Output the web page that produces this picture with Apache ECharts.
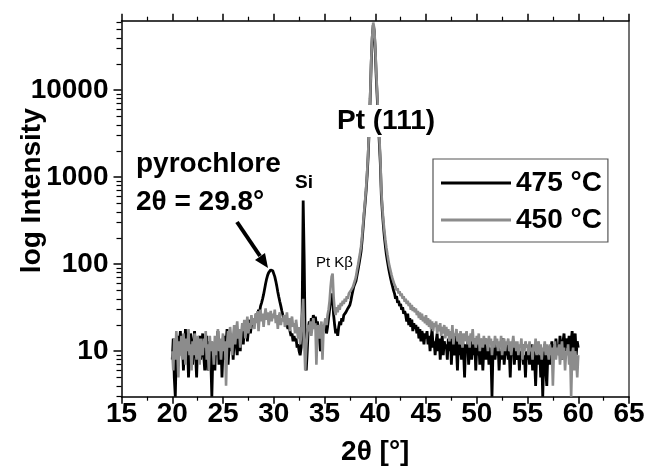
<!DOCTYPE html>
<html>
<head>
<meta charset="utf-8">
<script src="https://cdn.jsdelivr.net/npm/echarts@6/dist/echarts.min.js"></script>
<style>html,body{margin:0;padding:0;background:#fff}#c{width:646px;height:469px}</style>
</head>
<body>
<div id="c"></div>
<script>
// 2θ grid: 20.0 .. 60.0 in 0.1° steps
const thetaStart = 20.0;
const thetaStep = 0.1;

// 475 °C intensities (one row per degree, 20.x ... 59.x, then 60.0)
const s475 = [
  8, 14, 5, 3, 10, 15, 7, 12, 17, 9,
  13, 6, 10, 18, 8, 12, 5, 9, 16, 11,
  7, 13, 17, 9, 5, 12, 10, 15, 8, 11,
  16, 9, 6, 12, 15, 6, 10, 13, 8, 3,
  9, 12, 6, 14, 10, 17, 7, 11, 13, 5,
  10, 15, 8, 12, 18, 7, 11, 16, 10, 13,
  8, 14, 19, 12, 9, 16, 13, 10, 17, 14,
  12, 18, 15, 21, 13, 17, 23, 16, 20, 24,
  20, 24, 22, 27, 25, 30, 28, 33, 36, 40,
  45, 52, 60, 68, 75, 80, 84, 86, 88, 84,
  80, 72, 64, 56, 48, 42, 37, 33, 29, 26,
  25, 22, 24, 20, 18, 21, 17, 15, 16, 13,
  15, 13, 14, 11, 12, 10, 9, 11, 30, 540,
  110, 12, 6, 10, 18, 22, 19, 24, 21, 26,
  23, 25, 20, 22, 18, 14, 10, 12, 16, 20,
  18, 20, 16, 19, 24, 30, 38, 46, 40, 26,
  20, 16, 18, 15, 19, 22, 20, 24, 22, 26,
  25, 28, 27, 31, 30, 34, 38, 44, 50, 56,
  58, 64, 74, 86, 100, 118, 140, 185, 260, 370,
  500, 700, 1050, 1750, 3500, 8000, 20000, 40000, 56000, 48000,
  29000, 14000, 8000, 4400, 2500, 1450, 620, 400, 280, 205,
  160, 128, 108, 92, 80, 70, 62, 56, 50, 46,
  40, 43, 36, 38, 33, 35, 30, 32, 27, 29,
  26, 22, 27, 20, 24, 19, 23, 17, 21, 18,
  20, 16, 19, 14, 18, 13, 17, 15, 12, 16,
  14, 17, 12, 15, 10, 14, 18, 11, 13, 9,
  13, 16, 10, 14, 8, 12, 15, 9, 13, 11,
  12, 8, 14, 10, 17, 7, 13, 11, 9, 15,
  11, 6, 13, 9, 12, 8, 14, 10, 5, 12,
  10, 13, 7, 11, 15, 8, 12, 9, 14, 6,
  11, 9, 13, 7, 12, 10, 6, 11, 14, 8,
  10, 12, 7, 11, 9, 3, 10, 13, 8, 11,
  9, 12, 6, 10, 8, 11, 14, 7, 10, 9,
  12, 8, 10, 5, 11, 9, 13, 7, 10, 8,
  9, 11, 6, 10, 8, 12, 7, 9, 5, 10,
  8, 11, 7, 9, 12, 6, 10, 8, 4, 9,
  10, 7, 11, 5, 9, 3, 8, 12, 6, 4,
  9, 11, 7, 10, 13, 8, 12, 9, 14, 10,
  12, 9, 15, 11, 8, 13, 16, 10, 14, 12,
  11, 15, 9, 13, 17, 10, 12, 16, 9, 13,
  11
];

// 450 °C intensities
const s450 = [
  10, 6, 14, 8, 17, 11, 5, 13, 9, 15,
  8, 16, 11, 7, 14, 10, 18, 9, 12, 6,
  13, 9, 16, 11, 8, 15, 12, 7, 14, 10,
  9, 14, 11, 17, 8, 12, 6, 15, 10, 13,
  11, 7, 15, 9, 13, 18, 10, 14, 8, 12,
  16, 10, 13, 4, 12, 17, 11, 19, 14, 9,
  15, 20, 12, 17, 22, 14, 18, 11, 16, 21,
  17, 23, 14, 19, 25, 16, 21, 18, 26, 20,
  24, 18, 27, 21, 29, 17, 25, 30, 22, 27,
  19, 26, 31, 23, 28, 20, 25, 29, 22, 27,
  24, 30, 21, 26, 18, 25, 28, 20, 24, 22,
  26, 19, 23, 28, 20, 24, 17, 22, 25, 19,
  21, 16, 23, 18, 14, 19, 12, 15, 25, 40,
  14, 6, 11, 16, 20, 17, 22, 15, 19, 24,
  18, 21, 7, 16, 20, 14, 18, 22, 8, 17,
  21, 24, 20, 26, 30, 38, 55, 72, 78, 42,
  30, 26, 32, 28, 34, 30, 36, 33, 38, 35,
  40, 37, 43, 40, 46, 44, 50, 48, 55, 60,
  65, 72, 85, 98, 115, 135, 160, 210, 290, 400,
  540, 760, 1150, 1900, 3800, 8500, 22000, 42000, 60000, 52000,
  32000, 16000, 9000, 5000, 2900, 1700, 700, 450, 320, 240,
  190, 155, 130, 110, 95, 85, 76, 68, 63, 58,
  55, 50, 53, 46, 49, 43, 46, 40, 43, 37,
  40, 35, 38, 33, 36, 30, 34, 29, 32, 28,
  31, 26, 29, 24, 28, 23, 27, 22, 25, 21,
  26, 20, 24, 19, 23, 18, 22, 17, 21, 19,
  22, 16, 20, 17, 21, 15, 19, 16, 20, 14,
  19, 15, 18, 13, 17, 14, 20, 12, 16, 15,
  18, 13, 16, 12, 17, 14, 11, 16, 13, 15,
  17, 12, 15, 11, 16, 13, 18, 12, 14, 11,
  15, 12, 16, 10, 14, 13, 11, 15, 12, 14,
  13, 10, 15, 12, 14, 9, 13, 11, 15, 12,
  14, 10, 13, 11, 15, 9, 12, 14, 10, 13,
  12, 14, 10, 13, 9, 12, 15, 11, 13, 10,
  13, 9, 12, 11, 14, 8, 12, 10, 13, 11,
  12, 9, 13, 10, 11, 8, 12, 10, 14, 9,
  11, 13, 9, 12, 8, 11, 10, 13, 9, 12,
  10, 8, 12, 9, 11, 4, 10, 13, 8, 11,
  9, 12, 7, 10, 13, 8, 11, 6, 10, 9,
  12, 7, 10, 3, 9, 11, 6, 10, 8, 5,
  9
];

const seriesNames = ['475 °C', '450 °C'];
const xTicks = [15, 20, 25, 30, 35, 40, 45, 50, 55, 60, 65];
const yMajorTicks = [10, 100, 1000, 10000];
const yMinorTicks = [3, 4, 5, 6, 7, 8, 9, 20, 30, 40, 50, 60, 70, 80, 90,
  200, 300, 400, 500, 600, 700, 800, 900, 2000, 3000, 4000, 5000, 6000, 7000, 8000, 9000,
  20000, 30000, 40000, 50000, 60000];

const FONT = '"Liberation Sans", Arial, Helvetica, sans-serif';
const toPairs = arr => arr.map((v, i) => [+(thetaStart + i * thetaStep).toFixed(1), v]);

const chart = echarts.init(document.getElementById('c'), null, {renderer: 'canvas'});
const axisLine = {show: true, lineStyle: {color: '#000', width: 1.5}};
const xCommon = {
  type: 'value', min: xTicks[0], max: xTicks[xTicks.length - 1], interval: 5,
  splitLine: {show: false},
  axisLine: Object.assign({onZero: false}, axisLine),
  axisTick: {show: true, length: 7, lineStyle: {color: '#000', width: 1.5}},
  minorTick: {show: true, splitNumber: 2, length: 4, lineStyle: {color: '#000', width: 1.2}}
};
const yCommon = {type: 'log', logBase: 10, min: 3, max: 63000, splitLine: {show: false}};

chart.setOption({
  animation: false,
  backgroundColor: '#fff',
  grid: {left: 121.5, right: 17, top: 20.7, bottom: 72.3, containLabel: false, outerBoundsMode: 'none'},
  xAxis: [
    Object.assign({}, xCommon, {
      position: 'bottom',
      axisLabel: {show: true, color: '#000', fontFamily: FONT, fontWeight: 'bold', fontSize: 28, margin: 4},
      name: '2θ [°]', nameLocation: 'middle', nameGap: 42, nameMoveOverlap: false,
      nameTextStyle: {color: '#000', fontFamily: FONT, fontWeight: 'bold', fontSize: 28}
    }),
    Object.assign({}, xCommon, {position: 'top', axisLabel: {show: false}})
  ],
  yAxis: [
    Object.assign({}, yCommon, {
      position: 'left',
      axisLine: axisLine,
      axisTick: {show: true, length: 8, customValues: yMajorTicks, lineStyle: {color: '#000', width: 1.5}},
      axisLabel: {show: true, customValues: yMajorTicks, formatter: v => String(Math.round(v)),
        color: '#000', fontFamily: FONT, fontWeight: 'bold', fontSize: 28, margin: 13},
      name: 'log Intensity', nameLocation: 'middle', nameGap: 75, nameMoveOverlap: false,
      nameTextStyle: {color: '#000', fontFamily: FONT, fontWeight: 'bold', fontSize: 28, padding: [0, 0, 0, 36]}
    }),
    Object.assign({}, yCommon, {
      position: 'left',
      axisLine: {show: false},
      axisTick: {show: true, length: 5, customValues: yMinorTicks, lineStyle: {color: '#000', width: 1.2}},
      axisLabel: {show: false}
    }),
    Object.assign({}, yCommon, {
      position: 'right',
      axisLine: {show: true, lineStyle: {color: '#444', width: 1.5}},
      axisTick: {show: false},
      axisLabel: {show: false}
    })
  ],
  legend: {
    orient: 'vertical', left: 433, top: 159,
    data: [
      {name: seriesNames[0], icon: 'rect'},
      {name: seriesNames[1], icon: 'rect'}
    ],
    itemWidth: 70, itemHeight: 3, itemGap: 9,
    padding: [10, 6, 8, 8],
    borderColor: '#555', borderWidth: 1.2,
    textStyle: {color: '#000', fontFamily: FONT, fontWeight: 'bold', fontSize: 28, lineHeight: 28, padding: [0, 0, 0, 0]}
  },
  series: [
    {name: seriesNames[0], type: 'line', data: toPairs(s475), showSymbol: false, symbol: 'none',
      itemStyle: {color: '#000'}, lineStyle: {color: '#000', width: 2.8}, z: 2},
    {name: seriesNames[1], type: 'line', data: toPairs(s450), showSymbol: false, symbol: 'none',
      itemStyle: {color: '#8c8c8c'}, lineStyle: {color: '#8c8c8c', width: 2.6}, z: 3}
  ],
  graphic: [
    {type: 'text', z: 100, left: 335, top: 105,
      style: {text: 'Pt (111)', fill: '#000', font: 'bold 28px ' + FONT, backgroundColor: '#fff', padding: [2, 2, 2, 2]}},
    {type: 'text', z: 100, left: 136, top: 150,
      style: {text: 'pyrochlore', fill: '#000', font: 'bold 28px ' + FONT}},
    {type: 'text', z: 100, left: 136, top: 188,
      style: {text: '2θ = 29.8°', fill: '#000', font: 'bold 28px ' + FONT}},
    {type: 'text', z: 100, left: 295, top: 173,
      style: {text: 'Si', fill: '#000', font: 'bold 19px ' + FONT}},
    {type: 'text', z: 100, left: 316, top: 255,
      style: {text: 'Pt Kβ', fill: '#000', font: '15px ' + FONT}},
    {type: 'line', z: 100, shape: {x1: 237, y1: 222, x2: 260, y2: 256},
      style: {stroke: '#000', lineWidth: 4}},
    {type: 'polygon', z: 100, shape: {points: [[268, 268], [255, 260], [265, 253]]},
      style: {fill: '#000'}}
  ]
});
</script>
</body>
</html>
